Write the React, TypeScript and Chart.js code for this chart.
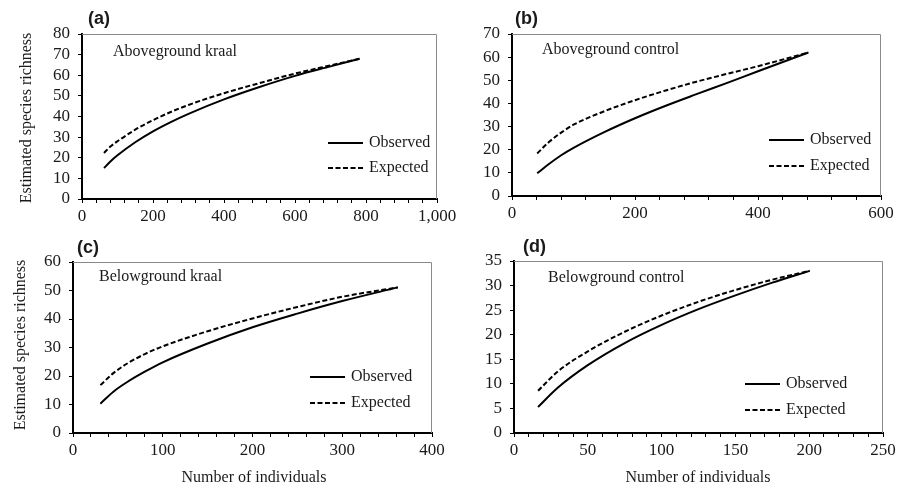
import React, { useEffect, useRef } from "react";
import { Chart, registerables } from "chart.js";

Chart.register(...registerables);

// ---------- data ----------
const seriesNames = ["Observed", "Expected"];
const xAxisTitle = "Number of individuals";
const yAxisTitle = "Estimated species richness";

// (a) Aboveground kraal
const aIndividuals = [62, 80, 100, 150, 200, 250, 300, 400, 500, 600, 700, 782];
const aObserved = [15, 18.2, 21.2, 27.5, 32.8, 37.3, 41.3, 48.3, 54.3, 59.7, 64.3, 68];
const aExpected = [22.3, 25.4, 28, 33.6, 38.2, 42.2, 45.6, 51.3, 56.2, 60.8, 64.8, 68];
const aXTicks = [0, 200, 400, 600, 800, 1000];

// (b) Aboveground control
const bIndividuals = [41, 60, 80, 100, 150, 200, 250, 300, 350, 400, 482];
const bObserved = [9.8, 13.8, 17.6, 20.8, 27.6, 33.6, 39, 44, 48.9, 53.9, 62];
const bExpected = [18.4, 23.3, 27.4, 30.8, 36.6, 41.4, 45.6, 49.4, 52.8, 56.1, 62];
const bXTicks = [0, 200, 400, 600];

// (c) Belowground kraal
const cIndividuals = [30.5, 45, 60, 80, 100, 150, 200, 250, 300, 362];
const cObserved = [10.3, 14.5, 17.8, 21.5, 24.8, 31.4, 37.1, 41.9, 46.3, 51.1];
const cExpected = [16.8, 21, 24.3, 27.7, 30.4, 35.7, 40.2, 44.2, 47.8, 51.1];
const cXTicks = [0, 100, 200, 300, 400];

// (d) Belowground control
const dIndividuals = [16.3, 30, 50, 75, 100, 125, 150, 175, 200.3];
const dObserved = [5.3, 9.3, 13.8, 18.3, 22, 25.2, 28, 30.6, 33];
const dExpected = [8.6, 12.6, 16.6, 20.6, 23.9, 26.7, 29.1, 31.2, 33];
const dXTicks = [0, 50, 100, 150, 200, 250];

// ---------- layout ----------
type Panel = {
  label: string;
  title: string;
  xs: number[];
  obs: number[];
  exp: number[];
  xTicks: number[];
  xMinor: number;
  yMax: number;
  yStep: number;
  box: { left: number; top: number; width: number; height: number };
  area: { left: number; top: number; right: number; bottom: number };
  labelPos: [number, number];
  titlePos: [number, number];
  legendPos: [number, number, number];
  yTitle?: [number, number];
  xTitle?: [number, number];
};

const panels: Panel[] = [
  {
    label: "(a)", title: "Aboveground kraal", xs: aIndividuals, obs: aObserved, exp: aExpected,
    xTicks: aXTicks, xMinor: 40, yMax: 80, yStep: 10,
    box: { left: 0, top: 0, width: 470, height: 235 },
    area: { left: 82, top: 34, right: 437, bottom: 199 },
    labelPos: [88, 19], titlePos: [113, 52], legendPos: [328, 143, 168],
    yTitle: [27, 118],
  },
  {
    label: "(b)", title: "Aboveground control", xs: bIndividuals, obs: bObserved, exp: bExpected,
    xTicks: bXTicks, xMinor: 40, yMax: 70, yStep: 10,
    box: { left: 460, top: 0, width: 447, height: 235 },
    area: { left: 512, top: 34, right: 881, bottom: 196 },
    labelPos: [515, 19], titlePos: [542, 50], legendPos: [769, 140, 166],
  },
  {
    label: "(c)", title: "Belowground kraal", xs: cIndividuals, obs: cObserved, exp: cExpected,
    xTicks: cXTicks, xMinor: 20, yMax: 60, yStep: 10,
    box: { left: 0, top: 235, width: 470, height: 252 },
    area: { left: 73, top: 262, right: 432, bottom: 433 },
    labelPos: [77, 248], titlePos: [99, 277], legendPos: [310, 377, 403],
    yTitle: [21, 345], xTitle: [254, 478],
  },
  {
    label: "(d)", title: "Belowground control", xs: dIndividuals, obs: dObserved, exp: dExpected,
    xTicks: dXTicks, xMinor: 10, yMax: 35, yStep: 5,
    box: { left: 460, top: 235, width: 447, height: 252 },
    area: { left: 514, top: 261, right: 883, bottom: 433 },
    labelPos: [523, 247], titlePos: [548, 278], legendPos: [745, 384, 410],
    xTitle: [698, 478],
  },
];

const SERIF = "'Liberation Serif', 'Times New Roman', serif";
const SANS = "'Liberation Sans', Arial, sans-serif";
const TEXT = "#1a1a1a";
const DASH = [5, 2.5];

function PanelChart({ p }: { p: Panel }) {
  const ref = useRef<HTMLCanvasElement | null>(null);

  useEffect(() => {
    if (!ref.current) return;
    const ox = p.box.left;
    const oy = p.box.top;
    const cl = p.area.left - ox;
    const ct = p.area.top - oy;
    const cr = p.area.right - ox;
    const cb = p.area.bottom - oy;
    const yw = cl;
    const xh = p.box.height - cb;

    const decor = {
      id: "decor",
      afterDraw(chart: any) {
        const ctx = chart.ctx as CanvasRenderingContext2D;
        const a = chart.chartArea;
        ctx.save();
        // top & right frame
        ctx.strokeStyle = "#8a8a8a";
        ctx.lineWidth = 1;
        ctx.beginPath();
        ctx.moveTo(a.left, a.top + 0.5);
        ctx.lineTo(a.right - 0.5, a.top + 0.5);
        ctx.lineTo(a.right - 0.5, a.bottom);
        ctx.stroke();

        ctx.fillStyle = TEXT;
        // panel label
        ctx.font = `bold 18px ${SANS}`;
        ctx.textAlign = "left";
        ctx.textBaseline = "middle";
        ctx.fillText(p.label, p.labelPos[0] - ox, p.labelPos[1] - oy);
        // inner title
        ctx.font = `16px ${SERIF}`;
        ctx.fillText(p.title, p.titlePos[0] - ox, p.titlePos[1] - oy);
        // legend
        const [lx, ly1, ly2] = p.legendPos;
        const ds = chart.data.datasets;
        [ly1, ly2].forEach((ly, i) => {
          ctx.strokeStyle = "#000";
          ctx.lineWidth = 2;
          ctx.setLineDash(ds[i].borderDash || []);
          ctx.beginPath();
          ctx.moveTo(lx - ox, ly - oy);
          ctx.lineTo(lx + 35 - ox, ly - oy);
          ctx.stroke();
          ctx.setLineDash([]);
          ctx.fillText(ds[i].label, lx + 41 - ox, ly - oy);
        });
        // axis titles
        if (p.yTitle) {
          ctx.save();
          ctx.translate(p.yTitle[0] - ox, p.yTitle[1] - oy);
          ctx.rotate(-Math.PI / 2);
          ctx.textAlign = "center";
          ctx.fillText(yAxisTitle, 0, 0);
          ctx.restore();
        }
        if (p.xTitle) {
          ctx.textAlign = "center";
          ctx.fillText(xAxisTitle, p.xTitle[0] - ox, p.xTitle[1] - oy);
        }
        ctx.restore();
      },
    };

    const chart = new Chart(ref.current, {
      type: "line",
      data: {
        datasets: [
          {
            label: seriesNames[0],
            data: p.xs.map((x, i) => ({ x, y: p.obs[i] })),
            borderColor: "#000",
            borderWidth: 2,
            pointRadius: 0,
            cubicInterpolationMode: "monotone",
            fill: false,
          },
          {
            label: seriesNames[1],
            data: p.xs.map((x, i) => ({ x, y: p.exp[i] })),
            borderColor: "#000",
            borderWidth: 2,
            borderDash: DASH,
            pointRadius: 0,
            cubicInterpolationMode: "monotone",
            fill: false,
          },
        ],
      },
      options: {
        animation: false,
        responsive: false,
        devicePixelRatio: 1,
        layout: { padding: { left: 0, top: ct, right: p.box.width - cr, bottom: 0 } },
        plugins: { legend: { display: false }, tooltip: { enabled: false } },
        scales: {
          x: {
            type: "linear",
            min: 0,
            max: p.xTicks[p.xTicks.length - 1],
            ticks: {
              stepSize: p.xMinor,
              autoSkip: false,
              maxRotation: 0,
              padding: 3,
              color: TEXT,
              font: { family: SERIF, size: 17 },
              callback: (v: any) => {
                const n = Number(v);
                return p.xTicks.includes(n) ? n.toLocaleString("en-US") : "";
              },
            },
            grid: { drawOnChartArea: false, tickLength: 4, color: "#000", lineWidth: 1 },
            border: { color: "#000", width: 2 },
            afterFit: (s: any) => {
              s.height = xh;
              s.paddingLeft = 0;
              s.paddingRight = 0;
            },
          },
          y: {
            type: "linear",
            min: 0,
            max: p.yMax,
            ticks: {
              stepSize: p.yStep,
              autoSkip: false,
              padding: 8,
              color: TEXT,
              font: { family: SERIF, size: 17 },
            },
            grid: { drawOnChartArea: false, tickLength: 4, color: "#000", lineWidth: 1 },
            border: { color: "#000", width: 2 },
            afterFit: (s: any) => {
              s.width = yw;
              s.paddingTop = 0;
              s.paddingBottom = 0;
            },
          },
        },
      } as any,
      plugins: [decor],
    });
    return () => chart.destroy();
  }, [p]);

  return (
    <canvas
      ref={ref}
      width={p.box.width}
      height={p.box.height}
      style={{
        position: "absolute",
        left: p.box.left,
        top: p.box.top,
        width: p.box.width,
        height: p.box.height,
      }}
    />
  );
}

export default function App() {
  return (
    <div
      style={{
        position: "fixed",
        left: 0,
        top: 0,
        width: 907,
        height: 487,
        background: "#fff",
        overflow: "hidden",
      }}
    >
      {panels.map((p) => (
        <PanelChart key={p.label} p={p} />
      ))}
    </div>
  );
}
